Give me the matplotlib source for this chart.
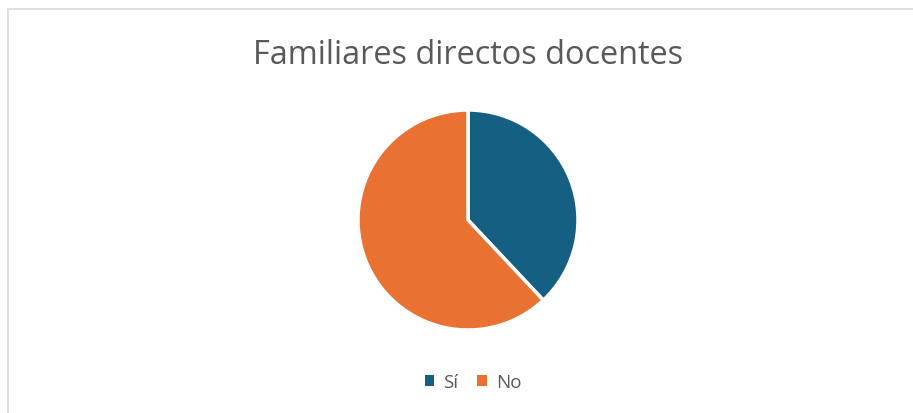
import matplotlib.pyplot as plt
from matplotlib.patches import Rectangle

labels = ['Sí', 'No']
values = [38, 62]
colors = ['#156082', '#E97132']
title = 'Familiares directos docentes'

W, H = 913, 414
fig = plt.figure(figsize=(W / 100, H / 100), dpi=100)
plt.rcParams['font.family'] = ['Open Sans', 'DejaVu Sans']

# chart frame (runs off the right and bottom edges)
fig.patches.append(Rectangle((8 / W, -0.1), 1.2, 1 - 10 / H + 0.1,
                             transform=fig.transFigure, fill=False,
                             edgecolor='#D9D9D9', linewidth=1.2))

# pie area: center (468, 221), radius ~110 px
r = 110
ax = fig.add_axes([(468 - r) / W, (H - 221 - r) / H, 2 * r / W, 2 * r / H])
wedges, _ = ax.pie(values, colors=colors, startangle=90, counterclock=False,
                   radius=1, wedgeprops=dict(edgecolor='white', linewidth=2.5))
ax.set_xlim(-1, 1)
ax.set_ylim(-1, 1)
ax.set_aspect('equal')
ax.axis('off')

fig.text(468 / W, 1 - 55 / H, title, ha='center', va='center',
         fontsize=23.4, color='#595959')

leg = fig.legend(wedges, labels, loc='center', bbox_to_anchor=(473 / W, 1 - 383 / H),
                 ncol=2, frameon=False, fontsize=13.5, labelcolor='#595959',
                 handlelength=0.5, handleheight=0.5, handletextpad=0.5,
                 columnspacing=1.0)
for h in leg.legend_handles:
    h.set_linewidth(0)

fig.savefig('out.png', dpi=100)
